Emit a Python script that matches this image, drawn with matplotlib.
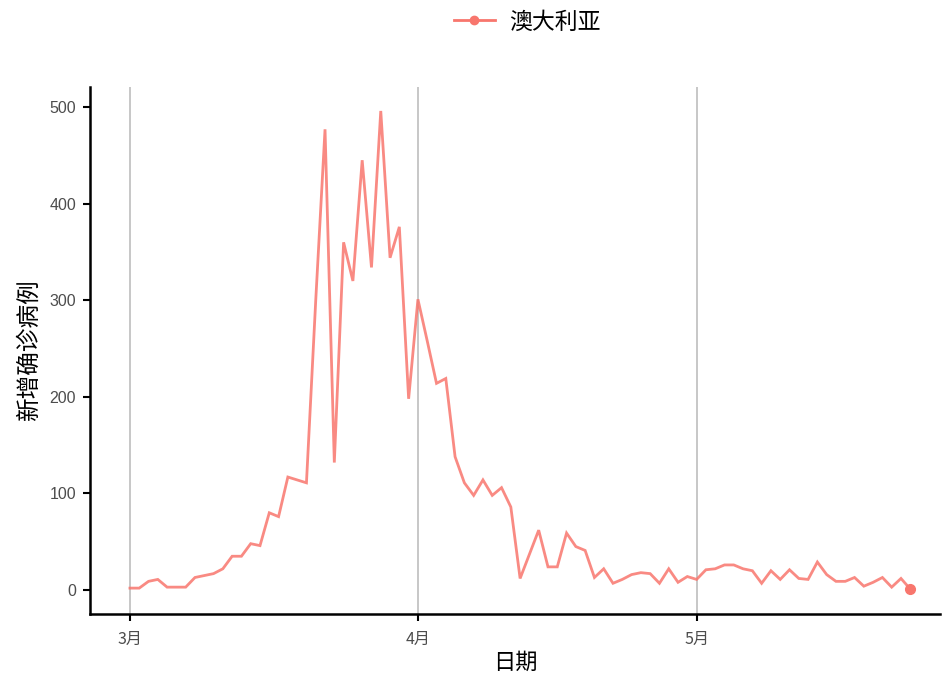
import numpy as np
import pandas as pd
import matplotlib
matplotlib.use("Agg")
import matplotlib.pyplot as plt
import matplotlib.dates as mdates
from matplotlib.lines import Line2D

plt.rcParams['font.family'] = ['Noto Sans CJK SC', 'DejaVu Sans']

# daily new confirmed cases, Australia, from 2020-03-01
country = "澳大利亚"
start_date = "2020-03-01"
new_cases = [
    2, 2, 9, 11, 3, 3, 3, 13, 15, 17,
    22, 35, 35, 48, 46, 80, 76, 117, 114, 111,
    300, 477, 132, 360, 320, 445, 334, 496, 344, 376,
    198, 301, 258, 214, 219, 138, 111, 98, 114, 98,
    106, 86, 12, 37, 62, 24, 24, 59, 45, 41,
    13, 22, 7, 11, 16, 18, 17, 7, 22, 8,
    14, 11, 21, 22, 26, 26, 22, 20, 7, 20,
    11, 21, 12, 11, 29, 16, 9, 9, 13, 4,
    8, 13, 3, 12, 1,
]
dates = pd.date_range(start_date, periods=len(new_cases), freq="D")
month_ticks = pd.to_datetime(["2020-03-01", "2020-04-01", "2020-05-01"])
month_labels = ["3月", "4月", "5月"]
y_ticks = [0, 100, 200, 300, 400, 500]

col = "#F8766D"
fig = plt.figure(figsize=(9.44, 6.86), dpi=100)
ax = fig.add_axes([90 / 944, (686 - 614) / 686, (940 - 90) / 944, (614 - 87) / 686])

ax.plot(dates, new_cases, color=col, lw=2.0, alpha=0.85, solid_joinstyle="miter")
ax.plot(dates[-1:], new_cases[-1:], "o", color=col, ms=7)

x0 = mdates.date2num(dates[0])
ax.set_xlim(x0 - 4.3, x0 + 87.2)
span = max(new_cases)
ax.set_ylim(-0.05 * span, span * 1.05)

ax.set_xticks(month_ticks)
ax.set_xticklabels(month_labels)
ax.set_yticks(y_ticks)
ax.set_yticklabels([str(v) for v in y_ticks], family="Liberation Sans")
ax.xaxis.grid(True, color="#b8b8b8", lw=1.1)
ax.set_axisbelow(True)

for s in ["top", "right"]:
    ax.spines[s].set_visible(False)
for s in ["left", "bottom"]:
    ax.spines[s].set_linewidth(1.8)
ax.tick_params(axis="both", length=5, width=1.5, colors="black",
               labelcolor="#4d4d4d", labelsize=11.5)
ax.tick_params(axis="x", pad=7)
ax.tick_params(axis="y", pad=5)

ax.set_xlabel("日期", fontsize=16, color="black", labelpad=2)
ax.set_ylabel("新增确诊病例", fontsize=17, color="black", labelpad=6)

handle = Line2D([], [], color=col, lw=2.0, marker="o", ms=6)
fig.legend([handle], [country], loc="center", bbox_to_anchor=(527 / 944, 1 - 22 / 686),
           frameon=False, fontsize=16.5, handlelength=1.8, handletextpad=0.6)

fig.savefig("out.png", dpi=100)
